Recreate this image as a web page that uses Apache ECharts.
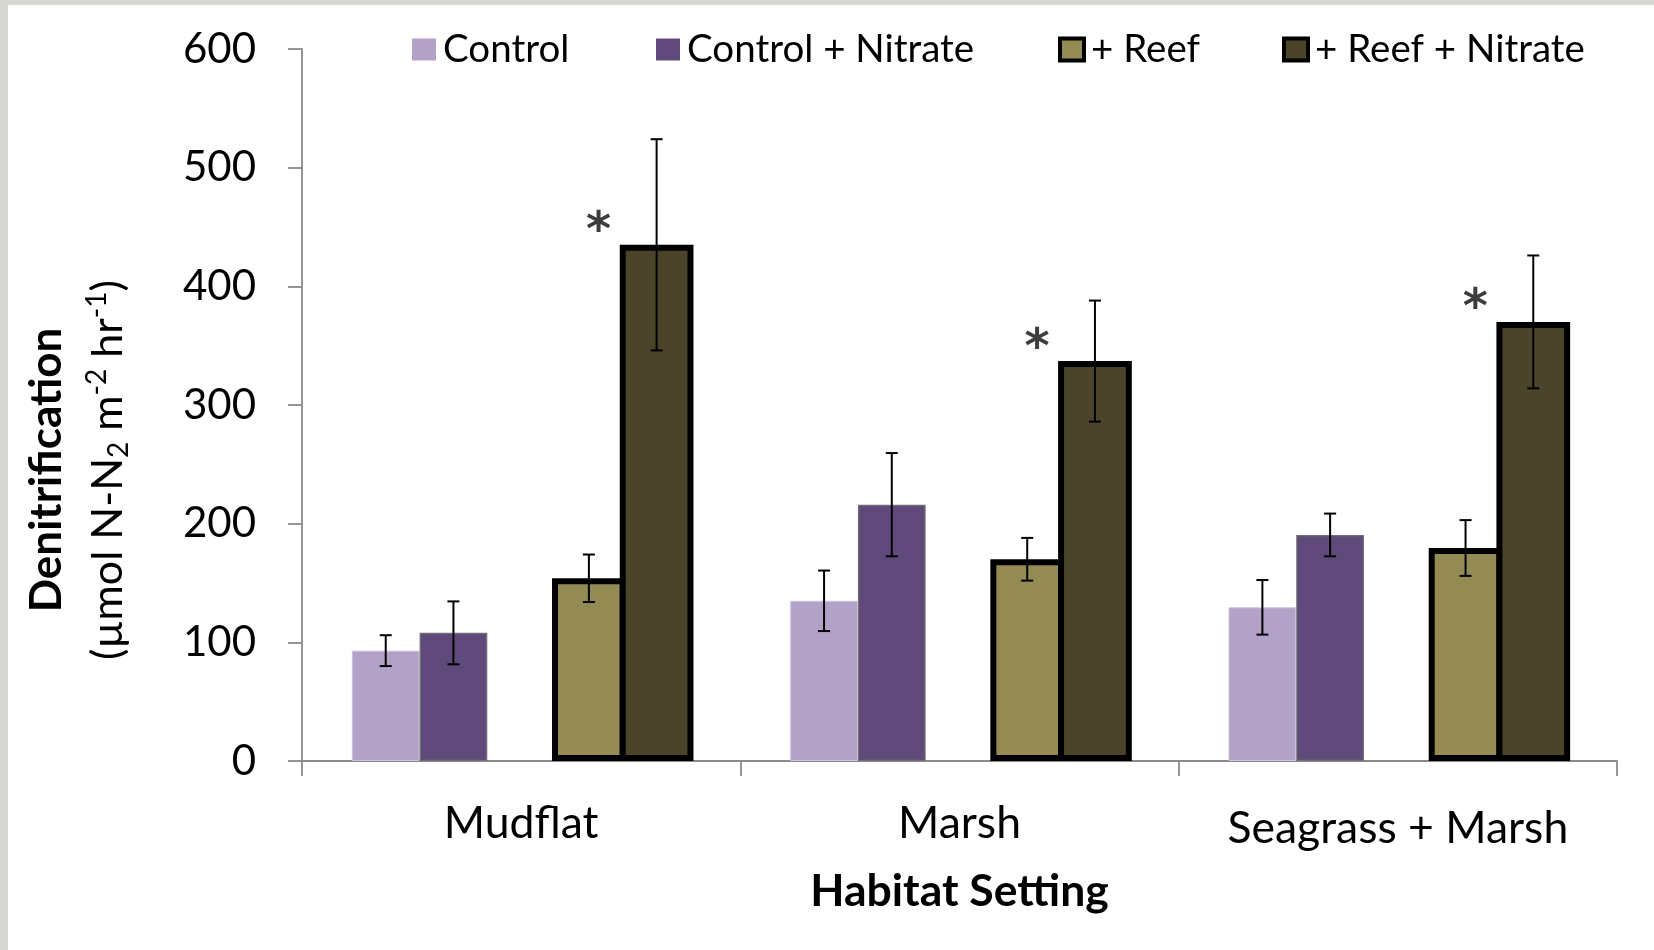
<!DOCTYPE html>
<html>
<head>
<meta charset="utf-8">
<script src="https://cdn.jsdelivr.net/npm/echarts@6/dist/echarts.min.js"></script>
<style>
  html, body { margin: 0; padding: 0; background: #ffffff; }
  #chart { width: 1654px; height: 950px; }
</style>
</head>
<body>
<div id="chart"></div>
<script>
// ---- data ----
const categories = ['Mudflat', 'Marsh', 'Seagrass + Marsh'];
const seriesNames = ['Control', 'Control + Nitrate', '+ Reef', '+ Reef + Nitrate'];
const controlMean = [93, 135, 129.5];
const controlErr = [13, 25.5, 23];
const controlNitrateMean = [108, 216, 190.5];
const controlNitrateErr = [26.5, 43.5, 18];
const reefMean = [154, 170, 179.5];
const reefErr = [20, 18, 23.5];
const reefNitrateMean = [435, 337, 370];
const reefNitrateErr = [89, 51, 56];
const significance = ['*', '*', '*'];
const yTicks = [0, 100, 200, 300, 400, 500, 600];

// ---- style / layout ----
const FONT = 'Lato';
const colors = ['#B3A2C7', '#604A7B', '#948A54', '#4A452A'];
const SLOT = 0.1545;               // one bar slot as fraction of the category band
const pct = v => (v * 100).toFixed(3) + '%';
const REEF_BORDER = 6;
const BAND_PX = 438.4;
const b = REEF_BORDER / BAND_PX;
const reefW = SLOT + b;            // bordered bars are one border wider (border overlaps)
const reefGap = -b / reefW;
const spacerW = 3 * SLOT / (1 + reefGap);
const empty = categories.map(() => '-');

// error bar data: [categoryIndex, low, high, slotIndex]
const means = [controlMean, controlNitrateMean, reefMean, reefNitrateMean];
const errs = [controlErr, controlNitrateErr, reefErr, reefNitrateErr];
const slotOf = [0, 1, 3, 4];
const errData = [];
means.forEach((m, s) => m.forEach((v, c) => {
  errData.push([c, v - errs[s][c], v + errs[s][c], slotOf[s]]);
}));

// the last category label sits a little lower in the reference
const categoryItems = categories.map((c, i) =>
  i === categories.length - 1 ? { value: c, textStyle: { padding: [5, 0, 0, 0] } } : c);

const chart = echarts.init(document.getElementById('chart'), null, { renderer: 'canvas' });

const axisColor = '#8a8a8a';
const legendLeft = [407, 651, 1053, 1277];

const option = {
  backgroundColor: '#ffffff',
  animation: false,
  textStyle: { fontFamily: FONT },
  grid: { left: 302, right: 37, top: 49, bottom: 189, containLabel: false, outerBoundsMode: 'none' },
  legend: seriesNames.map((name, i) => ({
    data: [name],
    left: legendLeft[i],
    top: 25,
    icon: 'rect',
    itemWidth: 24,
    itemHeight: 22,
    selectedMode: false,
    itemStyle: i >= 2 ? { borderWidth: 4, borderColor: '#000' } : { borderWidth: 0 },
    textStyle: { fontFamily: FONT, fontSize: 38.5, color: '#000', lineHeight: 22, padding: [0, 0, 0, 2] }
  })),
  xAxis: [
    {
      type: 'category',
      data: categoryItems,
      name: 'Habitat Setting',
      nameLocation: 'middle',
      nameGap: 108,
      nameTextStyle: { fontFamily: FONT, fontSize: 44.5, fontWeight: 'bold', color: '#000' },
      axisLine: { show: true, lineStyle: { color: axisColor, width: 1.8 } },
      axisTick: { show: true, interval: 0, length: 15, lineStyle: { color: axisColor, width: 1.8 } },
      axisLabel: { interval: 0, hideOverlap: false, fontFamily: FONT, fontSize: 44.5, color: '#000', margin: 40 },
      splitLine: { show: false }
    },
    {
      type: 'category',
      data: categories,
      show: false
    }
  ],
  yAxis: {
    type: 'value',
    min: yTicks[0],
    max: yTicks[yTicks.length - 1],
    interval: yTicks[1] - yTicks[0],
    axisLine: { show: true, lineStyle: { color: axisColor, width: 1.8 } },
    axisTick: { show: true, length: 14, lineStyle: { color: axisColor, width: 1.8 } },
    axisLabel: { fontFamily: FONT, fontSize: 42, color: '#000', margin: 46 },
    splitLine: { show: false }
  },
  graphic: [
    { type: 'rect', shape: { x: 0, y: 0, width: 8, height: 950 }, style: { fill: '#d7d7d4' }, silent: true },
    { type: 'rect', shape: { x: 0, y: 0, width: 1654, height: 5 }, style: { fill: '#d7d7d4' }, silent: true },
    {
      type: 'text', x: 47, y: 470, rotation: Math.PI / 2,
      style: {
        text: 'Denitrification', fontFamily: FONT, fontSize: 44, fontWeight: 'bold',
        fill: '#000', align: 'center', verticalAlign: 'middle'
      }
    },
    {
      type: 'text', x: 108, y: 470, rotation: Math.PI / 2,
      style: {
        text: '{n|(µmol N-N}{sub|2}{n| m}{sup|-2}{n| hr}{sup|-1}{n|)}',
        align: 'center', verticalAlign: 'middle', fill: '#000',
        rich: {
          n: { fontFamily: FONT, fontSize: 43, lineHeight: 50, fill: '#000' },
          sub: { fontFamily: FONT, fontSize: 28, lineHeight: 28, verticalAlign: 'bottom', fill: '#000' },
          sup: { fontFamily: FONT, fontSize: 28, lineHeight: 28, verticalAlign: 'top', fill: '#000' }
        }
      }
    }
  ],
  series: [
    {
      name: seriesNames[0], type: 'bar', xAxisIndex: 0, data: controlMean,
      barWidth: pct(SLOT), barGap: '0%',
      itemStyle: { color: colors[0], borderColor: '#cdc3da', borderWidth: 1 }
    },
    {
      name: seriesNames[1], type: 'bar', xAxisIndex: 0, data: controlNitrateMean,
      barWidth: pct(SLOT), barGap: '0%',
      itemStyle: { color: colors[1], borderColor: '#707070', borderWidth: 1.2 }
    },
    {
      name: 'spacerA', type: 'bar', xAxisIndex: 0, data: empty,
      barWidth: pct(SLOT * 3), barGap: '0%', silent: true
    },
    {
      name: 'spacerB', type: 'bar', xAxisIndex: 1, data: empty,
      barWidth: pct(spacerW), barGap: pct(reefGap), silent: true
    },
    {
      name: seriesNames[2], type: 'bar', xAxisIndex: 1, data: reefMean,
      barWidth: pct(reefW), barGap: pct(reefGap),
      itemStyle: { color: colors[2], borderColor: '#000', borderWidth: REEF_BORDER }
    },
    {
      name: seriesNames[3], type: 'bar', xAxisIndex: 1, data: reefNitrateMean,
      barWidth: pct(reefW), barGap: pct(reefGap),
      itemStyle: { color: colors[3], borderColor: '#000', borderWidth: REEF_BORDER },
      label: {
        show: true, position: 'top', distance: 0, offset: [-58, 12],
        formatter: p => significance[p.dataIndex],
        fontFamily: 'DejaVu Sans', fontSize: 48, fontWeight: 'bold', color: '#3d3d3d'
      }
    },
    {
      name: 'errorbars', type: 'custom', xAxisIndex: 0, data: errData, z: 10, silent: true,
      renderItem: function (params, api) {
        const cat = api.value(0);
        const lo = api.coord([cat, api.value(1)]);
        const hi = api.coord([cat, api.value(2)]);
        const band = api.size([1, 0])[0];
        const x = lo[0] + (api.value(3) - 2) * SLOT * band;
        const cap = 6;
        const st = { stroke: '#000', lineWidth: 2 };
        return {
          type: 'group',
          children: [
            { type: 'line', shape: { x1: x, y1: lo[1], x2: x, y2: hi[1] }, style: st },
            { type: 'line', shape: { x1: x - cap, y1: lo[1], x2: x + cap, y2: lo[1] }, style: st },
            { type: 'line', shape: { x1: x - cap, y1: hi[1], x2: x + cap, y2: hi[1] }, style: st }
          ]
        };
      }
    }
  ]
};
chart.setOption(option);
</script>
</body>
</html>
